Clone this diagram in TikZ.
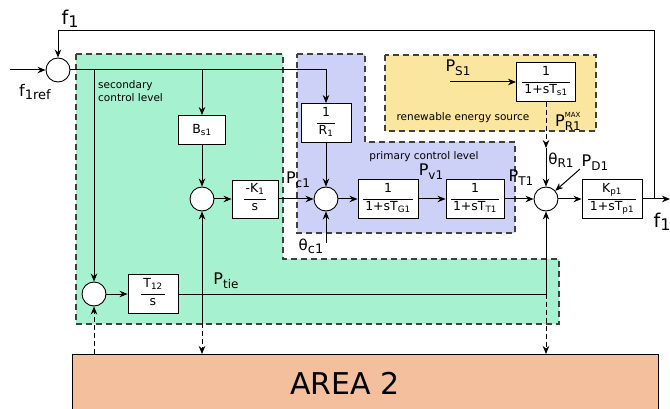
\documentclass[tikz,border=0pt]{standalone}
\usepackage{fontspec}
\setmainfont{DejaVu Sans}
\usetikzlibrary{arrows.meta}
\definecolor{gfill}{HTML}{A6F2D0}
\definecolor{bfill}{HTML}{CDD0F7}
\definecolor{yfill}{HTML}{FBE69F}
\definecolor{afill}{HTML}{F4BF9C}
\newlength\fwa \newlength\fwb
\newcommand{\bfrac}[2]{\settowidth\fwa{#1}\settowidth\fwb{#2}\ifdim\fwa>\fwb\fwb=\fwa\fi\addtolength\fwb{4pt}%
\begin{tabular}{@{}c@{}}#1\\[-3pt]\rule[2.5pt]{\fwb}{0.7pt}\\[-5pt]#2\end{tabular}}
\newcommand{\sig}[2]{#1\raisebox{-4pt}{\fontsize{12}{12}\selectfont #2}}
\begin{document}
\begin{tikzpicture}[x=1pt,y=-1pt,
  sum/.style={circle, draw, fill=white, minimum size=24pt, inner sep=0pt, line width=0.9pt},
  blk/.style={draw, fill=white, inner sep=0pt, line width=0.9pt, font=\fontsize{12.5}{13}\selectfont},
  arr/.style={-{Stealth[length=8pt,width=6.5pt]}, line width=1pt},
  dsh/.style={dash pattern=on 5pt off 3pt},
  region/.style={draw=black!75, line width=1.2pt, dash pattern=on 6pt off 4pt},
  lbl/.style={font=\fontsize{16}{17}\selectfont, inner sep=0pt},
  txt/.style={font=\fontsize{10.5}{13}\selectfont, inner sep=0pt}]
\useasboundingbox (0,0) rectangle (670,409);
% regions
\path[region, fill=gfill] (76,54) -- (283,54) -- (283,259) -- (559,259) -- (559,324) -- (76,324) -- cycle;
\path[region, fill=bfill] (297,54) -- (365,54) -- (365,142) -- (515,142) -- (515,233) -- (297,233) -- cycle;
\path[region, fill=yfill] (385,55) rectangle (596,131);
\draw[line width=1pt, fill=afill] (72,354) rectangle (658,420);
% nodes
\node[sum] (S0) at (58,70) {};
\node[sum] (S1) at (202,199) {};
\node[sum] (S2) at (326,199) {};
\node[sum] (S3) at (546,199) {};
\node[sum] (S4) at (94,294) {};
\node[blk, minimum width=47pt, minimum height=29pt] (Bs) at (202,130) {B\textsubscript{s1}};
\node[blk, minimum width=50pt, minimum height=39pt] (R) at (326,123) {\bfrac{1}{R\textsubscript{1}}};
\node[blk, minimum width=46pt, minimum height=38pt] (K) at (255,199) {\bfrac{-K\textsubscript{1}}{s}};
\node[blk, minimum width=60pt, minimum height=39pt] (G) at (388,199) {\bfrac{1}{1+sT\textsubscript{G1}}};
\node[blk, minimum width=58pt, minimum height=39pt] (T) at (475,199) {\bfrac{1}{1+sT\textsubscript{T1}}};
\node[blk, minimum width=60pt, minimum height=39pt] (Kp) at (612,199) {\bfrac{K\textsubscript{p1}}{1+sT\textsubscript{p1}}};
\node[blk, minimum width=59pt, minimum height=39pt] (Ts) at (546,82) {\bfrac{1}{1+sT\textsubscript{s1}}};
\node[blk, minimum width=50pt, minimum height=39pt] (T12) at (153,294) {\bfrac{T\textsubscript{12}}{s}};
% coordinates
\coordinate (in) at (10,70);
\coordinate (j1) at (94,70);
\coordinate (j2) at (202,70);
\coordinate (j3) at (326,70);
\coordinate (fo) at (654,199);
\coordinate (fe) at (670,199);
\coordinate (ft1) at (654,31);
\coordinate (ft2) at (58,31);
\coordinate (tc) at (326,243);
\coordinate (ps) at (450,82);
\coordinate (rm) at (546,148);
\coordinate (pd) at (580,169);
\coordinate (tie) at (546,294);
\coordinate (g1) at (202,323);
\coordinate (a0) at (94,354);
\coordinate (a1) at (202,354);
\coordinate (a2) at (546,354);
% connectors
\draw[arr] (in) -- (S0);
\draw[arr] (fo) -- (ft1) -- (ft2) -- (S0);
\draw[arr] (Kp) -- (fe);
\draw[arr] (S0) -- (j3) -- (R);
\draw[arr] (j1) -- (S4);
\draw[arr] (j2) -- (Bs);
\draw[arr] (Bs) -- (S1);
\draw[arr] (S1) -- (K);
\draw[arr] (K) -- (S2);
\draw[arr] (R) -- (S2);
\draw[arr] (tc) -- (S2);
\draw[arr] (S2) -- (G);
\draw[arr] (G) -- (T);
\draw[arr] (T) -- (S3);
\draw[arr] (S3) -- (Kp);
\draw[arr] (ps) -- (Ts);
\draw[arr, dsh] (Ts) -- (rm);
\draw[arr] (rm) -- (S3);
\draw[arr] (pd) -- (S3);
\draw[arr] (S4) -- (T12);
\draw[line width=1pt] (T12) -- (tie);
\draw[arr] (tie) -- (S3);
\draw[arr, dsh] (tie) -- (a2);
\draw[arr] (g1) -- (S1);
\draw[arr, dsh] (g1) -- (a1);
\draw[arr, dsh] (a0) -- (S4);
% labels
\node[lbl, font=\fontsize{19}{19}\selectfont] (lf1) at (70,19) {f\raisebox{-3pt}{\fontsize{16}{16}\selectfont 1}};
\node[lbl, font=\fontsize{19}{19}\selectfont] (lf2) at (662,222) {f\raisebox{-3pt}{\fontsize{16}{16}\selectfont 1}};
\node[lbl] (lref) at (35,92) {f\raisebox{-3pt}{\fontsize{13}{13}\selectfont 1ref}};
\node[lbl] (lpc) at (298,180) {\sig{P}{c1}};
\node[lbl] (lpv) at (431,172) {\sig{P}{v1}};
\node[lbl] (lpt) at (521,178) {\sig{P}{T1}};
\node[lbl] (lps) at (458,68) {\sig{P}{S1}};
\node[lbl] (lpd) at (595,163) {\sig{P}{D1}};
\node[lbl] (lpr) at (568,121) {P\rlap{\raisebox{9pt}{\fontsize{7}{7}\selectfont MAX}}\raisebox{-4pt}{\fontsize{12}{12}\selectfont R1}};
\node[lbl] (lptie) at (226,281) {\sig{P}{tie}};
\node[lbl, font=\fontsize{15}{16}\selectfont] (ltc) at (311,246) {θ\raisebox{-3pt}{\fontsize{13}{13}\selectfont c1}};
\node[lbl, font=\fontsize{15}{16}\selectfont] (ltr) at (561,160) {θ\raisebox{-3pt}{\fontsize{12}{12}\selectfont R1}};
\node[txt, anchor=north west, align=left] (lsec) at (98,80) {secondary\\control level};
\node[txt] (lprim) at (424,157) {primary control level};
\node[txt] (lren) at (463,118) {renewable energy source};
\node[font=\fontsize{30}{30}\selectfont, inner sep=0pt] (larea) at (345,383) {AREA 2};
\end{tikzpicture}
\end{document}
